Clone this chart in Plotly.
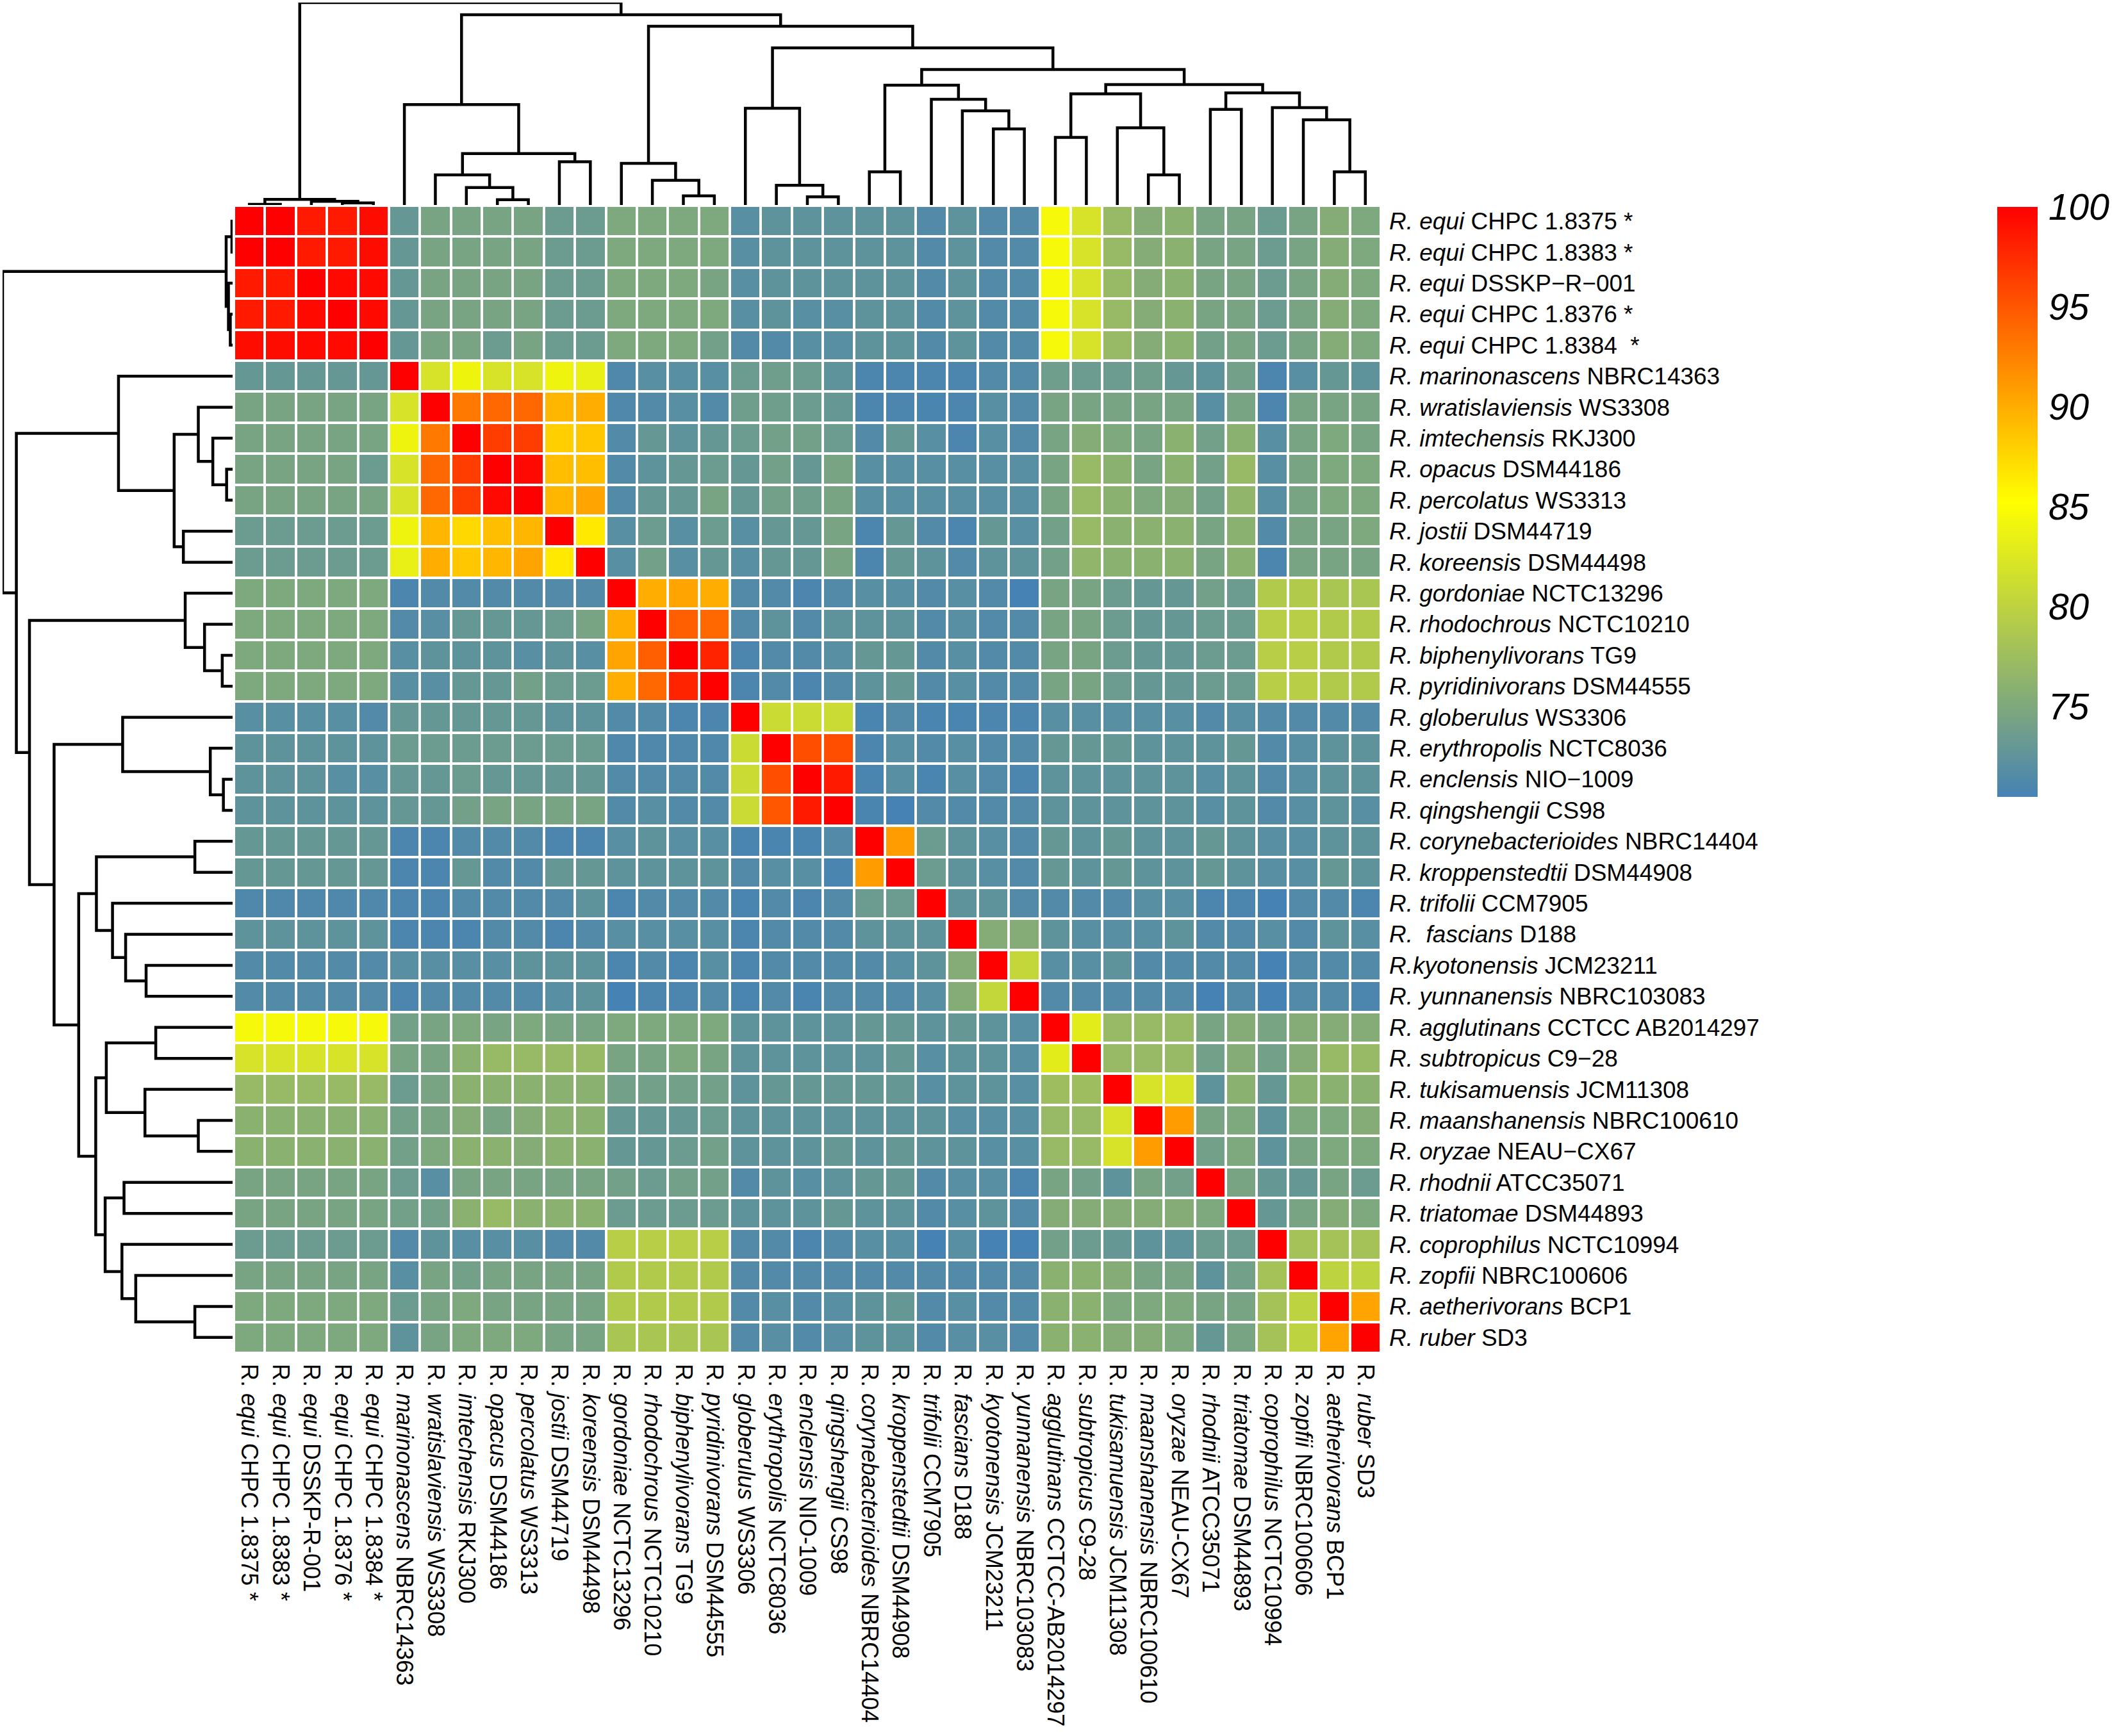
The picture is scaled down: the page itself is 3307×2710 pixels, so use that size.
import plotly.graph_objects as go

# ---------------- data ----------------
species = ["R. equi", "R. equi", "R. equi", "R. equi", "R. equi",
           "R. marinonascens", "R. wratislaviensis", "R. imtechensis", "R. opacus",
           "R. percolatus", "R. jostii", "R. koreensis", "R. gordoniae",
           "R. rhodochrous", "R. biphenylivorans", "R. pyridinivorans",
           "R. globerulus", "R. erythropolis", "R. enclensis", "R. qingshengii",
           "R. corynebacterioides", "R. kroppenstedtii", "R. trifolii",
           "R.\u00a0 fascians", "R.kyotonensis", "R. yunnanensis", "R. agglutinans",
           "R. subtropicus", "R. tukisamuensis", "R. maanshanensis", "R. oryzae",
           "R. rhodnii", "R. triatomae", "R. coprophilus", "R. zopfii",
           "R. aetherivorans", "R. ruber"]
strains_right = ["CHPC 1.8375 *", "CHPC 1.8383 *", "DSSKP\u2212R\u2212001", "CHPC 1.8376 *",
                 "CHPC 1.8384\u00a0 *", "NBRC14363", "WS3308", "RKJ300", "DSM44186", "WS3313",
                 "DSM44719", "DSM44498", "NCTC13296", "NCTC10210", "TG9", "DSM44555",
                 "WS3306", "NCTC8036", "NIO\u22121009", "CS98", "NBRC14404", "DSM44908",
                 "CCM7905", "D188", "JCM23211", "NBRC103083", "CCTCC AB2014297",
                 "C9\u221228", "JCM11308", "NBRC100610", "NEAU\u2212CX67", "ATCC35071",
                 "DSM44893", "NCTC10994", "NBRC100606", "BCP1", "SD3"]
species_bottom = ["equi", "equi", "equi", "equi", "equi", "marinonascens", "wratislaviensis",
                  "imtechensis", "opacus", "percolatus", "jostii", "koreensis", "gordoniae",
                  "rhodochrous", "biphenylivorans", "pyridinivorans", "globerulus",
                  "erythropolis", "enclensis", "qingshengii", "corynebacterioides",
                  "kroppenstedtii", "trifolii", "fascians", "kyotonensis", "yunnanensis",
                  "agglutinans", "subtropicus", "tukisamuensis", "maanshanensis", "oryzae",
                  "rhodnii", "triatomae", "coprophilus", "zopfii", "aetherivorans", "ruber"]
strains_bottom = ["CHPC 1.8375 *", "CHPC 1.8383 *", "DSSKP-R-001", "CHPC 1.8376 *",
                  "CHPC 1.8384 *", "NBRC14363", "WS3308", "RKJ300", "DSM44186", "WS3313",
                  "DSM44719", "DSM44498", "NCTC13296", "NCTC10210", "TG9", "DSM44555",
                  "WS3306", "NCTC8036", "NIO-1009", "CS98", "NBRC14404", "DSM44908",
                  "CCM7905", "D188", "JCM23211", "NBRC103083", "CCTCC-AB2014297",
                  "C9-28", "JCM11308", "NBRC100610", "NEAU-CX67", "ATCC35071",
                  "DSM44893", "NCTC10994", "NBRC100606", "BCP1", "SD3"]

ani = [
 [100,100,98.5,98.5,99.3, 73, 74.5,74.5,74.5,74.5, 73.5,73.5, 75,75,75,75, 72,72.5,72.5,72.5, 72.5,72.5, 71.5,72.5,71.5,71.5, 84.5,82, 77,75.5,76, 74.5,74.5, 73.5,74.5,75.5,75],
 [100,100,98.5,98.5,99.3, 73, 74.5,74.5,74.5,74.5, 73.5,73.5, 75,75,75,75, 72,72.5,72.5,72.5, 72.5,72.5, 71.5,72.5,71.5,71.5, 84.5,82, 77,75.5,76, 74.5,74.5, 73.5,74.5,75.5,75],
 [98.5,98.5,100,99.5,99.5, 73, 74.5,74.5,74.5,74.5, 73.5,73.5, 75,75,75,74.5, 72,72.5,72.5,72.5, 72.5,72.5, 71.5,72.5,71.5,71.5, 84.5,82, 77,75.5,76, 74.5,74.5, 73.5,74.5,75.5,75],
 [98.5,98.5,99.5,100,99.5, 73, 74.5,74.5,74.5,74.5, 73.5,73.5, 75,75,75,75, 72,72.5,72,72, 72.5,72.5, 71.5,72.5,71.5,71.5, 84.5,82, 77,75.5,76, 74.5,74.5, 73.5,74.5,75.5,75],
 [99.3,99.3,99.5,99.5,100, 73, 74.5,74.5,73.5,74.5, 73.5,73.5, 75,75,75,74, 71.5,71.5,72,72, 72.5,72.5, 71.5,72.5,71.5,71.5, 84.5,82, 77,75.5,76, 74,74.5, 73.5,74.5,75.5,75],
 [73,73,73,73,73, 100, 82,84,82,82, 84,83.5, 71.2,72,72,72, 73.5,73.8,73.5,72.5, 71,71, 71,71,71.5,71.5, 73.8,73.5, 73.5,73.8,73, 72.5,74, 71,72,73,72.5],
 [74.5,74.5,74.5,74.5,74.5, 82, 100,93,94,94, 89.5,90, 71.2,71.5,72,71.5, 73.8,73.8,73.5,73, 71,71, 70.8,71,72,71.5, 74.5,74.5, 74.5,74.5,74.5, 72,74.5, 71,74.5,74.5,74.5],
 [74.5,74.5,74.5,74.5,74.5, 84, 93,100,96.5,96.5, 88,88.5, 71.5,73,72.5,73, 73.5,74,74,73.5, 71.5,73, 72,71,72,71.5, 74.5,75.5, 75,74.5,76, 74,76, 72,74.5,75,74.5],
 [74.5,74.5,74.5,74.5,73.5, 82, 94,96.5,100,99.5, 89,89, 71.5,72.5,73,73.5, 73,74,73,74.5, 72,72, 72,72,72,72, 74.5,77, 76,74.5,76, 74,77, 72,74.5,75,75],
 [74.5,74.5,74.5,74.5,74.5, 82, 94,96.5,99.5,100, 89.5,90.5, 71.5,73,73,74.5, 73,74,73.8,74.5, 72,72, 72,72,72,72, 74.5,77, 76,75,75.5, 74,76.5, 72,74.5,75,75],
 [73.5,73.5,73.5,73.5,73.5, 84, 89.5,87.5,89,89.5, 100,86.5, 72,73.5,72,73.5, 72,73,73,74.5, 71,73, 71.5,71,73,72, 74,77, 76,76,76, 74.5,76, 71.5,74.5,74.5,75],
 [73.5,73.5,73.5,73.5,73.5, 83.5, 90,88.5,89.5,90.5, 86.5,100, 72,74,72,73, 72,73,73,74.5, 71,73, 72.5,71.5,72.5,72.5, 74,76.5, 76,76,76, 74.5,76, 71,74.5,74.5,74.5],
 [75,75,75,75,75, 71, 71.5,71.5,71.5,71.5, 71.5,71.5, 100,90,90.5,90, 71.5,71.5,71,71.5, 72,72, 71.5,72,71.5,70.5, 74.5,74.5, 73.5,73,73, 74,73.5, 79,79,78.5,78.5],
 [75,75,75,75,75, 71.5, 72,73,73,73, 73.5,74.5, 90,100,94.5,94, 71.5,72.5,71.5,72.5, 72.5,72.5, 71.5,72,71.5,71.5, 74.5,74.5, 73.5,73,73, 73.5,73.5, 79.5,79.5,79,79],
 [75,75,75,75,75, 72, 72.5,72.5,72.5,72, 72.5,72, 90.5,94.5,100,98, 71,71.5,71.5,72, 73,73, 71.5,72,71.5,71.5, 74.5,74.5, 73.5,73,73, 73.5,73.5, 79.5,79.5,79,79],
 [75,75,75,75,75, 72, 72,73,73,74, 73.5,73.5, 90,94,98,100, 71,71.5,71,71.5, 72.5,73, 71.5,72,71.5,71.5, 74.5,74.5, 73.5,73,73, 73.5,73.5, 79.5,79.5,79,79],
 [72,72,72,72,71.5, 73, 73,73,73,73, 72.5,72.5, 71.5,71.5,71,71, 100,81,81,81, 70.8,71.5, 70.8,70.8,71,71, 72,72, 72,72,72, 71.5,72, 71.5,71.5,71.5,71.5],
 [72.5,72.5,72.5,72.5,72.5, 73.5, 73.5,73.5,73.5,73.5, 73.5,73.5, 71.2,71.2,71.2,71.2, 81,100,95.5,95.5, 71,72, 71.5,72,71.5,71.5, 73,73, 73,72.5,72.5, 72.5,73, 71.5,72,72.5,72.5],
 [72.5,72.5,72.5,72,72, 73, 73,73.5,73,73, 73,73, 71.5,71.5,71.5,71.5, 81,95.5,100,98.5, 70.8,72, 70.8,72,71.5,71, 72.5,72.5, 72.5,72.5,72.5, 72,72.5, 71.5,72,72.5,72.5],
 [72.5,72.5,72.5,72.5,72.5, 73, 73,74,74.5,74.5, 74.5,74.5, 71.5,72,71.5,71.5, 81,95,98.5,100, 70.8,70.5, 71.5,71.5,71.5,71.5, 72.5,72.5, 72.5,72.5,72.5, 72,72.5, 71.5,72,72.5,72],
 [73,73,73,73,73, 71, 71,71.5,71.5,71.5, 71,71, 72,72.5,72,72, 70.8,70.8,70.8,71.5, 100,91, 73.5,72.5,72,71.5, 73,72.5, 73,72.5,72.5, 73,72.5, 72,72,72.5,72.5],
 [73,73,73,73,73, 71, 71,73,71.5,71.5, 73,73, 72.5,72.5,72.5,72.5, 71.5,72,72,70.8, 91,100, 73.5,72.5,72,71.5, 73,72.5, 73,72.5,72.5, 73,72.5, 72,72,73,72.5],
 [71.2,71.2,71.2,71.2,71.2, 71, 71,71.5,71.5,71.5, 71.5,72.5, 71,71.5,71.5,71.5, 70.8,71.5,71,71.5, 73.5,73.5, 100,72.5,72.5,71.5, 71.5,71.5, 71.5,72,72, 71,71, 70.5,71.5,71.5,71],
 [72.5,72.5,72.5,72.5,72.5, 71, 71,71,71.5,71.5, 71,71.5, 72,72,72,72, 71,71.5,71.5,71.5, 72.5,72.5, 72.5,100,75.5,75.5, 72.5,72, 72,72,72.5, 71.5,71.5, 72,71.5,72.5,72],
 [71.5,71.5,71.5,71.5,71.5, 72, 72,72,72,72.5, 72.5,72.5, 71,71.5,71,72, 71,71.5,71.5,71.5, 71.5,72, 72.5,75.5,100,80.5, 72,72, 72.5,71.5,71.5, 71.5,71.5, 70.5,71.5,71.5,71.5],
 [71.5,71.5,71.5,71.5,71.5, 71, 71.5,71.5,71.5,71.5, 72,72.5, 70.5,71,71,71.5, 70.8,71.5,70.8,71.5, 71.5,71.5, 72,75.5,80.5,100, 71.5,71.5, 71.5,71.5,71.5, 70.5,71.5, 70.5,71.5,71.5,71],
 [84.5,84.5,84.5,84.5,84.5, 74, 74.5,75,74.5,75, 74.5,74.5, 75,75,75,75, 72.5,72.5,72.5,72.5, 73,73, 72.5,73,72.5,72, 100,83, 77,77,77, 74.5,75.5, 74.5,75.5,75.5,75.5],
 [82,82,82,82,82, 74.5, 74.5,76,77,77, 77,77, 74.5,74.5,75,74.5, 72.5,72.5,72.5,72.5, 72.5,73, 72,72.5,72.5,72, 83,100, 77,77,77, 74,75.5, 74,75.5,77,77],
 [77,77,77,77,77, 73.5, 74.5,76,76,76, 76,76, 74,74,74,74, 72.5,73,73,73, 73,73, 72,72.5,72.5,72, 77.5,77.5, 100,82,82, 72.5,76, 73,76,76,76],
 [76,76,76,76,76, 74, 74.5,75.5,74.5,75.5, 76,76, 73,73,73,73.5, 72.5,72.5,72.5,72.5, 72.5,72.5, 72.5,72,72,72, 77,77, 82,100,91, 74.5,75, 72.5,75,75,75.5],
 [76,76,76,76,76, 74, 75,76,76,75.5, 76,76, 73,73,73.5,74, 72.5,72.5,72.5,73, 72.5,73, 72.5,72.5,72,72, 77,77, 82,91,100, 74,75, 72.5,74.5,75,75],
 [74.5,74.5,74.5,74.5,74.5, 73.5, 72,74.5,74.5,74.5, 74.5,74.5, 74,73.5,74,74, 71.5,72.5,72,72.5, 73,73, 71.5,72,72,71, 74.5,74, 72.5,74.5,74, 100,74.5, 73,73,74.5,73.5],
 [74.5,74.5,74.5,74.5,74.5, 74, 74,76,77,76, 76,76, 73.5,73.5,73.5,73.5, 72.5,72.5,72.5,73, 72.5,72.5, 71.5,72,72.5,71.5, 75.5,75.5, 75.5,75.5,75.5, 75,100, 73,74.5,75.5,75],
 [73.5,73.5,73.5,73.5,73.5, 71.5, 72.5,72,72,72, 71.5,71.5, 79.5,79.5,79.5,79.5, 71.5,71.5,71,71.5, 72,72, 70.5,72,70.5,70.5, 74,73.5, 73,72.5,72.5, 73.5,73.5, 100,78,78,78],
 [74.5,74.5,74.5,74.5,74.5, 72, 74.5,74,74.5,74.5, 74.5,74.5, 79,79,79,79, 71.5,71.5,71.5,71.5, 71.5,71.5, 71.5,71.5,71.5,71.5, 76,76, 75.5,74.5,74.5, 72.5,74, 78,100,80,80],
 [75,75,75,75,75, 73.5, 74.5,75,74.5,74.5, 74.5,74.5, 79,79,79,79, 71.5,72,71.5,72, 72.5,73, 71.5,72,71.5,71.5, 76,76, 75,75,75, 74.5,74.5, 78,80,100,90.5],
 [75,75,75,75,75, 72.5, 74.5,75,75,75, 74.5,74.5, 78.5,78.5,78.5,78.5, 71.5,72,71.5,72, 72.5,72.5, 71.5,72,72,71.5, 76,76, 75.5,75.5,75, 73,74.5, 78,80,90.5,100],
]

# hierarchical clustering merges: (child_a, child_b, height); ids >= 37 refer to earlier merges
merge_a = [0, 3, 2, 37, 8, 7, 6, 10, 43, 5, 14, 13, 12, 18, 17, 16, 20, 24, 23, 22, 53,
           26, 29, 28, 58, 31, 35, 34, 33, 62, 61, 57, 52, 49, 46, 40]
merge_b = [1, 4, 38, 39, 9, 41, 42, 11, 44, 45, 15, 47, 48, 19, 50, 51, 21, 25, 54, 55, 56,
           27, 30, 59, 60, 32, 36, 63, 64, 65, 66, 67, 68, 69, 70, 71]
merge_h = [0.3, 1.0, 1.8, 2.8, 2.6, 8.6, 14.9, 21.4, 25.4, 49.6, 4.5, 12.2, 20.6, 4.0, 9.7,
           47.8, 16.4, 37.6, 46.5, 52.2, 59.2, 33.4, 14.9, 38.1, 54.9, 47.2, 16.4, 42.1,
           48.1, 55.4, 59.5, 66.9, 77.6, 88.3, 94.0, 100.0]

colorbar_ticks = [75, 80, 85, 90, 95, 100]

# ---------------- build ----------------
n = len(species)
for row in ani:
    assert len(row) == n, len(row)

pos = {i: float(i) for i in range(n)}
hgt = {i: 0.0 for i in range(n)}
seg_p, seg_h = [], []
for k, (a, b, h) in enumerate(zip(merge_a, merge_b, merge_h)):
    node = n + k
    seg_p += [pos[a], pos[a], pos[b], pos[b], None]
    seg_h += [hgt[a], h, h, hgt[b], None]
    pos[node] = (pos[a] + pos[b]) / 2
    hgt[node] = h

W, H = 3307, 2710
HM_L, HM_R, HM_T, HM_B = 365, 2155, 321, 2112
FONT = "Liberation Sans, Arial, Helvetica, sans-serif"

right_labels = [f"<i>{s}</i> {t}" for s, t in zip(species, strains_right)]
bottom_labels = [f"R. <i>{s}</i> {t}" for s, t in zip(species_bottom, strains_bottom)]

fig = go.Figure()
fig.add_trace(go.Heatmap(
    z=ani, x=list(range(n)), y=list(range(n)),
    zmin=70.5, zmax=100,
    colorscale=[[0, "#4682B4"], [0.5, "#FFFF00"], [1, "#FF0000"]],
    xgap=4, ygap=4, hoverongaps=False,
    colorbar=dict(
        x=3117 / W, xanchor="left", y=1 - 323 / H, yanchor="top",
        lenmode="pixels", len=921, thicknessmode="pixels", thickness=63,
        outlinewidth=0, xpad=0, ypad=0,
        tickvals=colorbar_ticks, ticks="outside", ticklen=6,
        tickcolor="rgba(0,0,0,0)",
        tickfont=dict(size=57, family=FONT, color="black", style="italic"),
    ),
    xaxis="x", yaxis="y",
))

line_style = dict(color="black", width=4.5)
fig.add_trace(go.Scatter(x=seg_p, y=seg_h, mode="lines", line=line_style,
                         xaxis="x2", yaxis="y2", hoverinfo="skip", showlegend=False,
                         cliponaxis=False))
fig.add_trace(go.Scatter(x=seg_h, y=seg_p, mode="lines", line=line_style,
                         xaxis="x3", yaxis="y3", hoverinfo="skip", showlegend=False,
                         cliponaxis=False))

xdom = [HM_L / W, HM_R / W]
ydom = [1 - HM_B / H, 1 - HM_T / H]
hidden = dict(visible=False, showgrid=False, zeroline=False)

fig.update_layout(
    width=W, height=H, autosize=False,
    margin=dict(l=0, r=0, t=0, b=0, pad=0, autoexpand=False),
    paper_bgcolor="white", plot_bgcolor="white",
    showlegend=False,
    font=dict(family=FONT, color="black"),
    xaxis=dict(domain=xdom, range=[-0.5, n - 0.5], tickvals=list(range(n)),
               ticktext=bottom_labels, tickangle=90, side="bottom",
               showgrid=False, zeroline=False, showline=False, ticks="",
               ticklabelstandoff=16, automargin=False, anchor="y",
               tickfont=dict(size=36, family=FONT, color="black")),
    yaxis=dict(domain=ydom, range=[n - 0.5, -0.5], tickvals=list(range(n)),
               ticktext=right_labels, side="right",
               showgrid=False, zeroline=False, showline=False, ticks="",
               ticklabelstandoff=12, automargin=False, anchor="x",
               tickfont=dict(size=37, family=FONT, color="black")),
    xaxis2=dict(domain=xdom, range=[-0.5, n - 0.5], anchor="y2", **hidden),
    yaxis2=dict(domain=[1 - 320 / H, 1 - 4 / H], range=[0, 100], anchor="x2", **hidden),
    xaxis3=dict(domain=[4 / W, 363 / W], range=[100, 0], anchor="y3", **hidden),
    yaxis3=dict(domain=ydom, range=[n - 0.5, -0.5], anchor="x3", **hidden),
)

fig.write_html("out.html",
               config={"displayModeBar": False},
               post_script="document.body.style.margin='0px';document.body.style.padding='0px';")
